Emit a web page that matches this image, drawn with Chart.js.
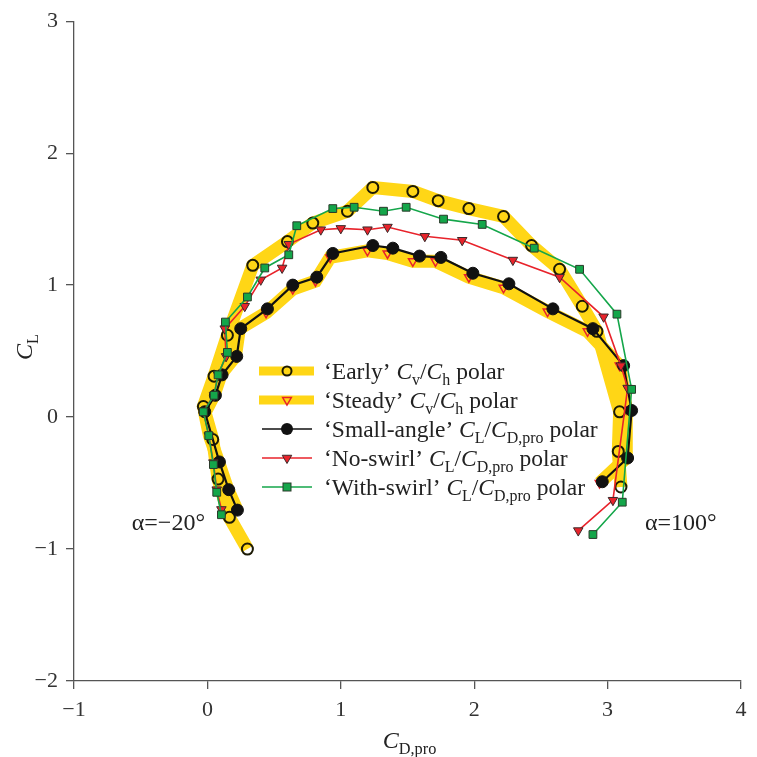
<!DOCTYPE html>
<html><head><meta charset="utf-8">
<script src="https://cdn.jsdelivr.net/npm/chart.js@4/dist/chart.umd.min.js"></script>
<style>html,body{margin:0;padding:0;background:#fff}#wrap{width:757px;height:757px}</style>
</head><body><div id="wrap"><canvas id="c" width="757" height="757"></canvas></div>
<script>
// ---- data ----
const xTickValues = [-1, 0, 1, 2, 3, 4];
const yTickValues = [-2, -1, 0, 1, 2, 3];

const earlyCD = [0.30, 0.165, 0.08, 0.04, -0.03, 0.05, 0.15, 0.34, 0.60, 0.79, 1.05, 1.24, 1.54, 1.73, 1.96, 2.22, 2.43, 2.64, 2.81, 2.92, 3.09, 3.08, 3.10];
const earlyCL = [-1.00, -0.76, -0.47, -0.17, 0.08, 0.31, 0.62, 1.15, 1.33, 1.47, 1.56, 1.74, 1.71, 1.64, 1.58, 1.52, 1.30, 1.12, 0.84, 0.65, 0.04, -0.26, -0.53];

const steadyCD = [0.22, 0.15, 0.08, 0.015, -0.02, 0.05, 0.105, 0.21, 0.24, 0.44, 0.64, 0.81, 0.92, 1.20, 1.35, 1.54, 1.71, 1.96, 2.22, 2.55, 2.85, 3.09, 3.14, 3.14, 2.94];
const steadyCL = [-0.70, -0.54, -0.33, -0.14, 0.03, 0.165, 0.33, 0.46, 0.67, 0.79, 0.97, 1.03, 1.21, 1.26, 1.24, 1.18, 1.18, 1.06, 0.98, 0.80, 0.65, 0.39, 0.06, -0.31, -0.50];

const smallCD = [0.225, 0.16, 0.09, -0.02, 0.06, 0.11, 0.22, 0.25, 0.45, 0.64, 0.82, 0.94, 1.24, 1.39, 1.59, 1.75, 1.99, 2.26, 2.59, 2.89, 3.12, 3.18, 3.15, 2.96];
const smallCL = [-0.705, -0.55, -0.34, 0.04, 0.165, 0.32, 0.46, 0.67, 0.82, 1.00, 1.06, 1.24, 1.30, 1.28, 1.22, 1.21, 1.09, 1.01, 0.82, 0.67, 0.39, 0.05, -0.31, -0.49];

const noSwirlCD = [0.105, 0.07, 0.045, 0.01, -0.03, 0.05, 0.08, 0.14, 0.13, 0.28, 0.40, 0.56, 0.61, 0.85, 1.00, 1.20, 1.35, 1.63, 1.91, 2.29, 2.64, 2.97, 3.10, 3.15, 3.04, 2.78];
const noSwirlCL = [-0.70, -0.55, -0.345, -0.14, 0.045, 0.165, 0.32, 0.46, 0.67, 0.84, 1.04, 1.13, 1.31, 1.42, 1.43, 1.42, 1.44, 1.37, 1.34, 1.19, 1.06, 0.76, 0.39, 0.22, -0.63, -0.86];

const withSwirlCD = [0.105, 0.07, 0.045, 0.01, -0.03, 0.05, 0.08, 0.15, 0.135, 0.30, 0.43, 0.61, 0.67, 0.94, 1.10, 1.32, 1.49, 1.77, 2.06, 2.45, 2.79, 3.07, 3.18, 3.11, 2.89];
const withSwirlCL = [-0.74, -0.57, -0.36, -0.14, 0.04, 0.165, 0.32, 0.49, 0.72, 0.91, 1.13, 1.23, 1.45, 1.58, 1.59, 1.56, 1.59, 1.50, 1.46, 1.28, 1.12, 0.78, 0.21, -0.645, -0.89];

const seriesNames = ["‘Early’", "‘Steady’", "‘Small-angle’", "‘No-swirl’", "‘With-swirl’"];

// ---- styling ----
const YELLOW = 'rgb(255,214,22)';
const RED = '#e8232b';
const GREEN = '#14a64a';
const SERIF = '"Liberation Serif","DejaVu Serif",serif';

function pts(xs, ys) { return xs.map((x, i) => ({ x: x, y: ys[i] })); }

const datasets = [
  { label: seriesNames[1], data: pts(steadyCD, steadyCL), order: 5,
    borderColor: YELLOW, borderWidth: 13, borderJoinStyle: 'miter',
    pointStyle: 'triangle', pointRotation: 180, pointRadius: 5,
    pointBorderColor: RED, pointBackgroundColor: 'rgba(0,0,0,0)', pointBorderWidth: 1.5 },
  { label: seriesNames[0], data: pts(earlyCD, earlyCL), order: 4,
    borderColor: YELLOW, borderWidth: 13, borderJoinStyle: 'miter',
    pointStyle: 'circle', pointRadius: 5.5, pointBorderColor: '#1c1a05',
    pointBackgroundColor: 'rgba(0,0,0,0)', pointBorderWidth: 2 },
  { label: seriesNames[2], data: pts(smallCD, smallCL), order: 3,
    borderColor: '#111', borderWidth: 2.2,
    pointStyle: 'circle', pointRadius: 6, pointBorderColor: '#111',
    pointBackgroundColor: '#111', pointBorderWidth: 1 },
  { label: seriesNames[3], data: pts(noSwirlCD, noSwirlCL), order: 2,
    borderColor: RED, borderWidth: 1.6,
    pointStyle: 'triangle', pointRotation: 180, pointRadius: 5.5,
    pointBorderColor: '#3a2a2a', pointBackgroundColor: RED, pointBorderWidth: 1 },
  { label: seriesNames[4], data: pts(withSwirlCD, withSwirlCL), order: 1,
    borderColor: GREEN, borderWidth: 1.6,
    pointStyle: 'rect', pointRadius: 5.5,
    pointBorderColor: '#2a3a2a', pointBackgroundColor: GREEN, pointBorderWidth: 1 }
];

function minusFmt(v) { return String(v).replace('-', '\u2212'); }

function richWidth(ctx, parts, size) {
  let w = 0;
  for (const p of parts) {
    const fs = p.sub ? size * 0.68 : size;
    ctx.font = (p.it ? 'italic ' : '') + fs + 'px ' + SERIF;
    w += ctx.measureText(p.t).width;
  }
  return w;
}
function drawRich(ctx, x, y, parts, size) {
  let cx = x;
  ctx.textBaseline = 'alphabetic';
  ctx.textAlign = 'left';
  for (const p of parts) {
    const fs = p.sub ? size * 0.68 : size;
    ctx.font = (p.it ? 'italic ' : '') + fs + 'px ' + SERIF;
    ctx.fillText(p.t, cx, y + (p.sub ? size * 0.26 : 0));
    cx += ctx.measureText(p.t).width;
  }
  return cx;
}

function marker(ctx, kind, x, y) {
  ctx.save();
  if (kind === 'circleOpen') {
    ctx.beginPath(); ctx.arc(x, y, 4.5, 0, Math.PI * 2);
    ctx.lineWidth = 2; ctx.strokeStyle = '#1c1a05'; ctx.stroke();
  } else if (kind === 'triOpen' || kind === 'triFill') {
    const r = kind === 'triOpen' ? 5 : 5.5;
    ctx.beginPath();
    for (let k = 0; k < 3; k++) {
      const a = Math.PI / 2 + k * 2 * Math.PI / 3;
      const px = x + r * Math.cos(a), py = y + r * Math.sin(a);
      if (k === 0) ctx.moveTo(px, py); else ctx.lineTo(px, py);
    }
    ctx.closePath();
    if (kind === 'triFill') { ctx.fillStyle = RED; ctx.fill(); ctx.lineWidth = 1; ctx.strokeStyle = '#3a2a2a'; }
    else { ctx.lineWidth = 1.5; ctx.strokeStyle = RED; }
    ctx.stroke();
  } else if (kind === 'dot') {
    ctx.beginPath(); ctx.arc(x, y, 6, 0, Math.PI * 2);
    ctx.fillStyle = '#111'; ctx.fill();
  } else if (kind === 'square') {
    ctx.fillStyle = GREEN; ctx.fillRect(x - 4, y - 4, 8, 8);
    ctx.lineWidth = 1; ctx.strokeStyle = '#2a3a2a'; ctx.strokeRect(x - 4, y - 4, 8, 8);
  }
  ctx.restore();
}

const CvCh = [{ t: 'C', it: true }, { t: 'v', sub: true }, { t: '/' }, { t: 'C', it: true }, { t: 'h', sub: true }, { t: ' polar' }];
const ClCd = [{ t: 'C', it: true }, { t: 'L', sub: true }, { t: '/' }, { t: 'C', it: true }, { t: 'D,pro', sub: true }, { t: ' polar' }];
const legendRows = [
  { y: 371, band: true, color: YELLOW, mk: 'circleOpen', parts: [{ t: seriesNames[0] + ' ' }].concat(CvCh) },
  { y: 400, band: true, color: YELLOW, mk: 'triOpen', parts: [{ t: seriesNames[1] + ' ' }].concat(CvCh) },
  { y: 429, band: false, color: '#111', mk: 'dot', parts: [{ t: seriesNames[2] + ' ' }].concat(ClCd) },
  { y: 458, band: false, color: RED, mk: 'triFill', parts: [{ t: seriesNames[3] + ' ' }].concat(ClCd) },
  { y: 487, band: false, color: GREEN, mk: 'square', parts: [{ t: seriesNames[4] + ' ' }].concat(ClCd) }
];

const decorPlugin = {
  id: 'decor',
  afterDraw(chart) {
    const ctx = chart.ctx;
    ctx.save();
    ctx.fillStyle = '#222';
    for (const r of legendRows) {
      ctx.save();
      ctx.strokeStyle = r.color;
      ctx.lineWidth = r.band ? 9 : 1.6;
      ctx.beginPath();
      ctx.moveTo(r.band ? 259 : 262, r.y); ctx.lineTo(r.band ? 314 : 312, r.y);
      ctx.stroke();
      ctx.restore();
      marker(ctx, r.mk, 287, r.y);
      ctx.fillStyle = '#222';
      drawRich(ctx, 324, r.y + 8, r.parts, 23.5);
    }
    const xs = chart.scales.x, ys = chart.scales.y;
    const xt = [{ t: 'C', it: true }, { t: 'D,pro', sub: true }];
    const xw = richWidth(ctx, xt, 24);
    drawRich(ctx, (xs.left + xs.right) / 2 - xw / 2 + 2, 748, xt, 24);
    ctx.save();
    ctx.translate(24, (ys.top + ys.bottom) / 2 - 4);
    ctx.rotate(-Math.PI / 2);
    const yt = [{ t: 'C', it: true }, { t: 'L', sub: true }];
    const yw = richWidth(ctx, yt, 24);
    drawRich(ctx, -yw / 2, 8, yt, 24);
    ctx.restore();
    ctx.font = '24px ' + SERIF;
    ctx.textBaseline = 'alphabetic';
    ctx.textAlign = 'right';
    ctx.fillText('\u03b1=\u221220\u00b0', 205, 530);
    ctx.textAlign = 'left';
    ctx.fillText('\u03b1=100\u00b0', 645, 530);
    ctx.restore();
  }
};

const axisCommon = {
  type: 'linear',
  grid: { drawOnChartArea: false, drawTicks: true, tickLength: 8, color: '#555', lineWidth: 1.3 },
  border: { display: true, color: '#555', width: 1.3 },
  ticks: { stepSize: 1, color: '#333', font: { family: SERIF, size: 22 }, callback: minusFmt }
};

new Chart(document.getElementById('c'), {
  type: 'line',
  data: { datasets: datasets },
  options: {
    responsive: false,
    animation: false,
    events: [],
    layout: { padding: { top: 15, right: 16, left: 0, bottom: 0 } },
    plugins: { legend: { display: false }, tooltip: { enabled: false } },
    scales: {
      x: Object.assign({}, axisCommon, {
        min: xTickValues[0], max: xTickValues[xTickValues.length - 1],
        ticks: Object.assign({}, axisCommon.ticks, { padding: 8 }),
        afterFit(s) { s.height = 76; }
      }),
      y: Object.assign({}, axisCommon, {
        min: yTickValues[0], max: yTickValues[yTickValues.length - 1],
        ticks: Object.assign({}, axisCommon.ticks, { padding: 8 }),
        afterFit(s) { s.width = 74; }
      })
    }
  },
  plugins: [decorPlugin]
});
</script>
</body></html>
